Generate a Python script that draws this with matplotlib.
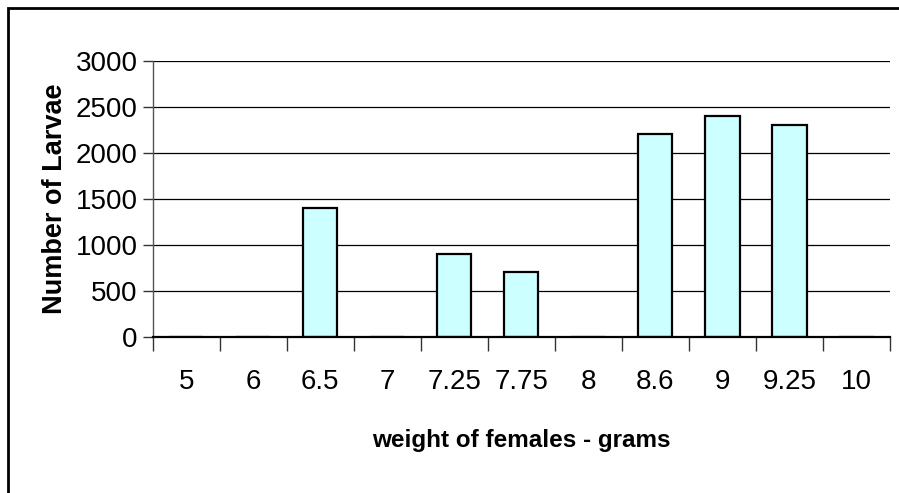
from matplotlib import pyplot as plt, patches as pa
import matplotlib as mpl
import numpy as np

# Data
weights = ['5', '6', '6.5', '7', '7.25', '7.75', '8', '8.6', '9', '9.25', '10']
larvae = [0, 0, 1400, 0, 900, 700, 0, 2200, 2400, 2300, 0]
y_ticks = [0, 500, 1000, 1500, 2000, 2500, 3000]

mpl.rcParams.update({
    'font.family': ['Liberation Sans', 'DejaVu Sans'],
    'font.size': 20,
})

fig = plt.figure(figsize=(8.99, 4.93), dpi=100)
ax = fig.add_axes([152.7 / 899, 1 - 336.7 / 493, (890 - 152.7) / 899, (336.7 - 60.7) / 493])

x = np.arange(len(weights))
ax.bar(x, larvae, width=0.51, color='#CCFFFF', edgecolor='black', linewidth=1.6, zorder=3)

# Axis limits and ticks (Excel style: ticks between categories)
ax.set_xlim(-0.5, len(weights) - 0.5)
ax.set_ylim(0, 3000)
ax.set_yticks(y_ticks)
ax.set_yticklabels([str(v) for v in y_ticks])
ax.set_xticks(np.arange(-0.5, len(weights), 1.0))
ax.set_xticklabels([])
ax.set_xticks(x, minor=True)
ax.set_xticklabels(weights, minor=True)
ax.tick_params(axis='x', which='major', direction='out', length=10, width=1, color='#333333')
ax.tick_params(axis='x', which='minor', length=0, pad=23)
ax.tick_params(axis='y', direction='out', length=7, width=1, color='#333333', pad=4)

# Grid
ax.grid(axis='y', color='black', linewidth=0.9)
ax.set_axisbelow(True)

# Spines
ax.spines['top'].set_visible(False)
ax.spines['right'].set_visible(False)
ax.spines['left'].set_color('#555555')
ax.spines['left'].set_linewidth(1)
ax.spines['bottom'].set_color('black')
ax.spines['bottom'].set_linewidth(1.6)
ax.spines['bottom'].set_zorder(4)

# Labels
ax.set_xlabel('weight of females - grams', fontsize=17.5, fontweight='bold', labelpad=25)
ax.set_ylabel('Number of Larvae', fontsize=19.5, fontweight='bold', labelpad=5)

# Outer chart border (runs off right and bottom edges)
border = pa.Rectangle((8 / 899, -0.2), 1.2, 1.2 - 8 / 493, transform=fig.transFigure,
                      fill=False, edgecolor='black', linewidth=2, clip_on=False)
fig.patches.append(border)

fig.savefig('out.png', dpi=100)
